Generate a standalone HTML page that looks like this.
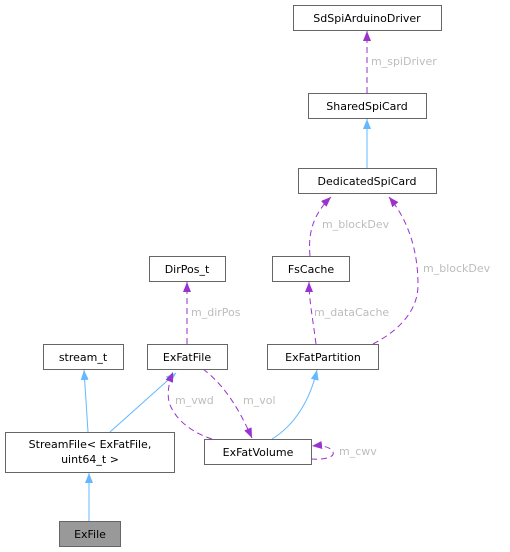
<!DOCTYPE html>
<html><head><meta charset="utf-8"><style>
html,body{margin:0;padding:0;background:#fff;}
svg{display:block;}
text{font-family:"DejaVu Sans","Liberation Sans",sans-serif;font-size:11px;}
.n{fill:#000;text-anchor:middle;}
.l{fill:#bdbdbd;}
</style></head><body>
<svg width="510" height="552" viewBox="0 0 510 552" xmlns="http://www.w3.org/2000/svg">
<defs>
<marker id="b" markerWidth="10" markerHeight="8" refX="10" refY="4" orient="auto" markerUnits="userSpaceOnUse"><path d="M0,0 L10,4 L0,8 z" fill="#63b8ff"/></marker>
<marker id="p" markerWidth="10" markerHeight="8" refX="10" refY="4" orient="auto" markerUnits="userSpaceOnUse"><path d="M0,0 L10,4 L0,8 z" fill="#9a32cd"/></marker>
</defs>
<g fill="none" stroke-width="1">
<path d="M367,93 L367,31" stroke="#9a32cd" stroke-dasharray="6,4" marker-end="url(#p)"/>
<path d="M367,168 L367,119" stroke="#63b8ff" marker-end="url(#b)"/>
<path d="M310,256 C308,235 312,215 331,197" stroke="#9a32cd" stroke-dasharray="6,4" marker-end="url(#p)"/>
<path d="M373,344 C400,330 418,310 418,285 C418,250 408,220 389,197" stroke="#9a32cd" stroke-dasharray="6,4" marker-end="url(#p)"/>
<path d="M316,344 C313,320 309,300 309,282" stroke="#9a32cd" stroke-dasharray="6,4" marker-end="url(#p)"/>
<path d="M187,344 L187,282" stroke="#9a32cd" stroke-dasharray="6,4" marker-end="url(#p)"/>
<path d="M88,432 L84,370" stroke="#63b8ff" marker-end="url(#b)"/>
<path d="M110,432 L176,373" stroke="#63b8ff" marker-end="url(#b)"/>
<path d="M272,439 C295,425 310,400 317,370" stroke="#63b8ff" marker-end="url(#b)"/>
<path d="M212,439 C190,432 174,418 169,402 C167,392 169,382 173,372" stroke="#9a32cd" stroke-dasharray="6,4" marker-end="url(#p)"/>
<path d="M203,369 C220,382 235,400 252,438" stroke="#9a32cd" stroke-dasharray="6,4" marker-end="url(#p)"/>
<path d="M311,459 C325,460 335,457 333,452 C331,447 322,445 312,446" stroke="#9a32cd" stroke-dasharray="6,4" marker-end="url(#p)"/>
<path d="M89,521 L89,473" stroke="#63b8ff" marker-end="url(#b)"/>
</g>
<g stroke="#666" stroke-width="1" fill="#fff">
<rect x="293.5" y="5.5" width="148" height="25"/>
<rect x="308.5" y="93.5" width="118" height="25"/>
<rect x="298.5" y="168.5" width="138" height="25"/>
<rect x="149.5" y="256.5" width="76" height="25"/>
<rect x="272.5" y="256.5" width="77" height="25"/>
<rect x="43.5" y="344.5" width="80" height="25"/>
<rect x="147.5" y="344.5" width="80" height="25"/>
<rect x="267.5" y="344.5" width="111" height="25"/>
<rect x="5.5" y="432.5" width="169" height="40"/>
<rect x="204.5" y="439.5" width="107" height="25"/>
<rect x="59.5" y="521.5" width="61" height="25" fill="#999"/>
</g>
<text class="n" x="367" y="22">SdSpiArduinoDriver</text>
<text class="n" x="367" y="110">SharedSpiCard</text>
<text class="n" x="367" y="185">DedicatedSpiCard</text>
<text class="n" x="187" y="273">DirPos_t</text>
<text class="n" x="311" y="273">FsCache</text>
<text class="n" x="83" y="361">stream_t</text>
<text class="n" x="187" y="361">ExFatFile</text>
<text class="n" x="323" y="361">ExFatPartition</text>
<text class="n" x="90" y="448">StreamFile&lt; ExFatFile,</text>
<text class="n" x="90" y="463">uint64_t &gt;</text>
<text class="n" x="258" y="456">ExFatVolume</text>
<text class="n" x="90" y="538">ExFile</text>
<text class="l" x="371" y="65">m_spiDriver</text>
<text class="l" x="322" y="228">m_blockDev</text>
<text class="l" x="423" y="272">m_blockDev</text>
<text class="l" x="314" y="316">m_dataCache</text>
<text class="l" x="191" y="316">m_dirPos</text>
<text class="l" x="175" y="404">m_vwd</text>
<text class="l" x="243" y="404">m_vol</text>
<text class="l" x="339" y="455">m_cwv</text>
</svg>
</body></html>
